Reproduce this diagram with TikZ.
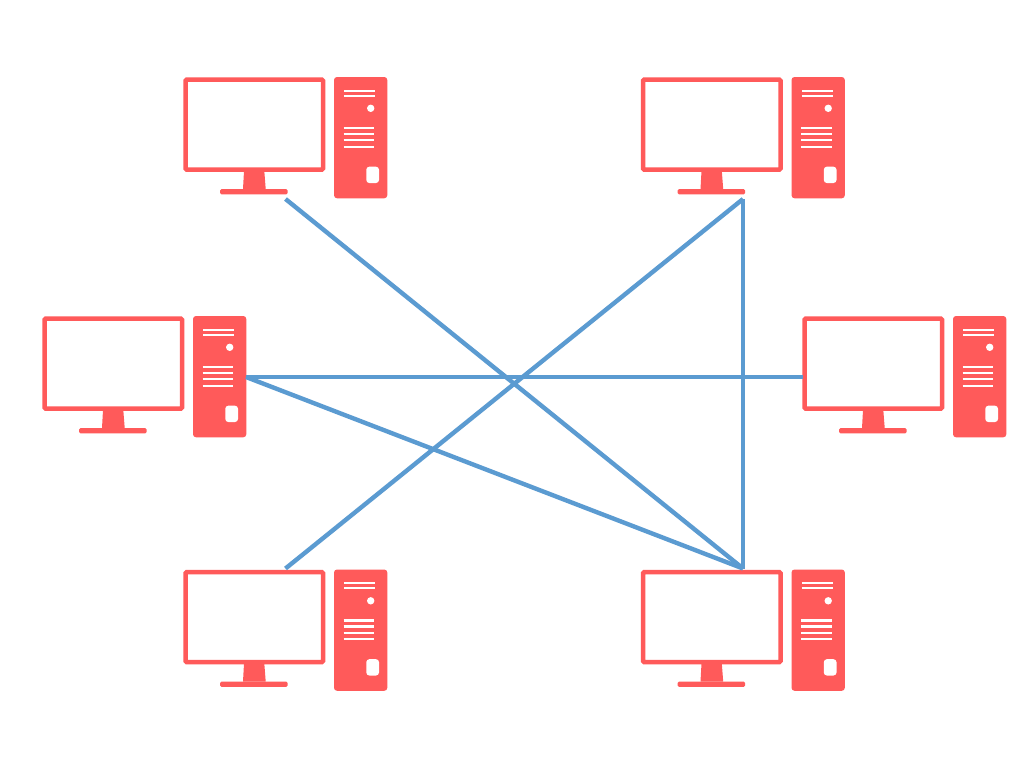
\documentclass[tikz,border=0pt]{standalone}
\definecolor{pcred}{HTML}{FF5A5A}
\definecolor{linkblue}{HTML}{5B9BD1}
\tikzset{
  x=1pt,y=-1pt,
  screen/.style={draw=pcred,line width=4.5pt,fill=white,rounded corners=1.2pt},
  pcbody/.style={fill=pcred,draw=none},
  slot/.style={draw=white,line width=2.3pt},
  link/.style={draw=linkblue,line width=4.4pt},
  computer/.pic={
    \path[screen] (1.6,2.5) rectangle (139,92.7);
    \path[pcbody] (60,94) -- (80.3,94) -- (81.7,112) -- (59,112) -- cycle;
    \path[pcbody,rounded corners=1.5pt] (36,112) rectangle (103.7,117.3);
    \path[pcbody,rounded corners=3pt] (150,0) rectangle (203.3,121.3);
    \draw[slot] (160.3,13.7) -- (191,13.7);
    \draw[slot] (160.3,18.7) -- (191,18.7);
    \fill[white] (186.7,31.3) circle (3.7);
    \draw[slot] (159.7,51) -- (190,51);
    \draw[slot] (159.7,57) -- (190,57);
    \draw[slot] (159.7,63.3) -- (190,63.3);
    \draw[slot] (159.7,69.7) -- (190,69.7);
    \fill[white,rounded corners=3pt] (182.3,89.7) rectangle (195,106);
    \coordinate (-under) at (101.5,122);
    \coordinate (-over) at (101.5,-1);
    \coordinate (-east) at (203,61);
    \coordinate (-west) at (0,61);
  }
}
\begin{document}
\begin{tikzpicture}
\useasboundingbox[fill=white] (0,0) rectangle (1024,768);
\pic (tl) at (184,77) {computer};
\pic (tr) at (641.5,77) {computer};
\pic (ml) at (43,316) {computer};
\pic (mr) at (803,316) {computer};
\pic (bl) at (184,569.5) {computer};
\pic (br) at (641.5,569.5) {computer};
\draw[link] (tl-under) -- (br-over);
\draw[link] (tr-under) -- (bl-over);
\draw[link] (tr-under) -- (br-over);
\draw[link] (ml-east) -- (mr-west);
\draw[link] (ml-east) -- (br-over);
\end{tikzpicture}
\end{document}
